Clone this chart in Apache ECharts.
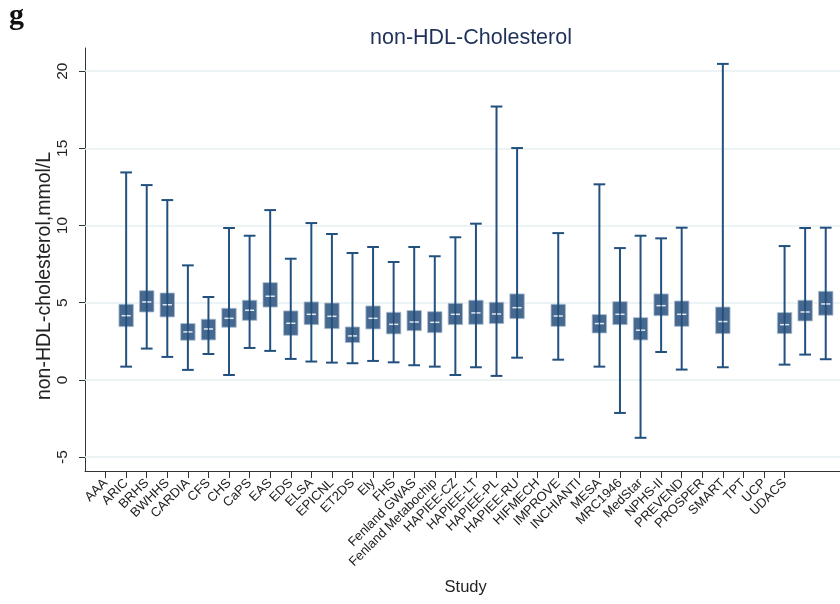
<!DOCTYPE html>
<html>
<head>
<meta charset="utf-8">
<script src="https://cdn.jsdelivr.net/npm/echarts@6/dist/echarts.min.js"></script>
<style>
  html, body { margin: 0; padding: 0; background: #fff; }
  #chart { width: 840px; height: 604px; }
</style>
</head>
<body>
<div id="chart"></div>
<script>
// Study names along the x axis
const studies = ['AAA', 'ARIC', 'BRHS', 'BWHHS', 'CARDIA', 'CFS', 'CHS', 'CaPS', 'EAS', 'EDS',
  'ELSA', 'EPICNL', 'ET2DS', 'Ely', 'FHS', 'Fenland GWAS', 'Fenland Metabochip', 'HAPIEE-CZ',
  'HAPIEE-LT', 'HAPIEE-PL', 'HAPIEE-RU', 'HIFMECH', 'IMPROVE', 'INCHIANTI', 'MESA', 'MRC1946',
  'MedStar', 'NPHS-II', 'PREVEND', 'PROSPER', 'SMART', 'TPT', 'UCP', 'UDACS'];

// Box statistics per slot (mmol/L); null = no box drawn in that slot
const whiskerLow = [null, 0.86, 2.03, 1.49, 0.65, 1.68, 0.32, 2.07, 1.88, 1.36, 1.19, 1.12, 1.08, 1.23, 1.14, 0.95, 0.86, 0.32, 0.82, 0.26, 1.44, null, 1.31, null, 0.86, -2.14, -3.75, 1.81, 0.67, null, 0.82, null, null, 0.99, 1.64, 1.34];
const boxLow     = [null, 3.45, 4.40, 4.08, 2.57, 2.59, 3.41, 3.86, 4.72, 2.89, 3.58, 3.32, 2.42, 3.30, 2.98, 3.19, 3.06, 3.58, 3.60, 3.65, 3.97, null, 3.47, null, 3.04, 3.58, 2.59, 4.16, 3.47, null, 3.00, null, null, 3.00, 3.82, 4.19];
const medians    = [null, 4.16, 5.05, 4.87, 3.11, 3.30, 3.99, 4.51, 5.42, 3.67, 4.25, 4.12, 2.85, 3.99, 3.60, 3.75, 3.73, 4.25, 4.34, 4.27, 4.68, null, 4.14, null, 3.65, 4.25, 3.22, 4.81, 4.25, null, 3.78, null, null, 3.58, 4.40, 4.92];
const boxHigh    = [null, 4.90, 5.78, 5.63, 3.65, 3.93, 4.64, 5.16, 6.30, 4.47, 5.05, 4.98, 3.43, 4.79, 4.38, 4.49, 4.42, 4.96, 5.16, 5.03, 5.57, null, 4.90, null, 4.23, 5.07, 4.03, 5.57, 5.11, null, 4.72, null, null, 4.36, 5.16, 5.74];
const whiskerHigh= [null, 13.44, 12.62, 11.65, 7.42, 5.37, 9.84, 9.34, 11.00, 7.85, 10.16, 9.45, 8.22, 8.61, 7.64, 8.61, 8.01, 9.24, 10.12, 17.71, 15.02, null, 9.51, null, 12.67, 8.54, 9.34, 9.17, 9.86, null, 20.47, null, null, 8.67, 9.84, 9.86];

// Y axis tick values
const yTicks = [-5, 0, 5, 10, 15, 20];

// Category axis: a blank slot on each side of the labelled studies
const categories = [''].concat(studies, ['', '', '']);

const boxData = [];
for (let k = 0; k < medians.length; k++) {
  if (medians[k] === null) continue;
  boxData.push([k + 1, whiskerLow[k], boxLow[k], medians[k], boxHigh[k], whiskerHigh[k]]);
}

const WHISKER = '#22507f';
const BOX = '#47698f';
const FONT = '"Liberation Sans", Arial, sans-serif';

function renderBox(params, api) {
  const x = api.value(0);
  const lo = api.coord([x, api.value(1)]);
  const q1 = api.coord([x, api.value(2)]);
  const md = api.coord([x, api.value(3)]);
  const q3 = api.coord([x, api.value(4)]);
  const hi = api.coord([x, api.value(5)]);
  const step = api.size([1, 0])[0];
  const bw = step * 0.7;
  const cw = step * 0.57;
  const cx = lo[0];
  const left = cx - bw / 2;
  const dash = bw * 0.28;
  return {
    type: 'group',
    children: [
      {
        type: 'rect',
        shape: { x: left, y: q3[1], width: bw, height: q1[1] - q3[1] },
        style: { fill: BOX, stroke: '#a9bccf', lineWidth: 0.8 }
      },
      {
        type: 'line',
        shape: { x1: cx, y1: lo[1], x2: cx, y2: hi[1] },
        style: { stroke: WHISKER, lineWidth: 2 }
      },
      {
        type: 'line',
        shape: { x1: cx - cw / 2, y1: lo[1], x2: cx + cw / 2, y2: lo[1] },
        style: { stroke: WHISKER, lineWidth: 2 }
      },
      {
        type: 'line',
        shape: { x1: cx - cw / 2, y1: hi[1], x2: cx + cw / 2, y2: hi[1] },
        style: { stroke: WHISKER, lineWidth: 2 }
      },
      {
        type: 'line',
        shape: { x1: left + bw * 0.18, y1: md[1], x2: left + bw * 0.18 + dash, y2: md[1] },
        style: { stroke: '#e4eaf1', lineWidth: 1.5 }
      },
      {
        type: 'line',
        shape: { x1: left + bw * 0.82 - dash, y1: md[1], x2: left + bw * 0.82, y2: md[1] },
        style: { stroke: '#e4eaf1', lineWidth: 1.5 }
      }
    ]
  };
}

const chart = echarts.init(document.getElementById('chart'), null, { renderer: 'canvas' });
chart.setOption({
  animation: false,
  backgroundColor: '#ffffff',
  title: {
    text: 'non-HDL-Cholesterol',
    left: 466,
    top: 22,
    textAlign: 'center',
    textStyle: { color: '#1e3159', fontSize: 21.5, fontWeight: 'normal', fontFamily: FONT }
  },
  graphic: [
    {
      type: 'text',
      left: 9,
      top: 1,
      style: { text: 'g', font: 'bold 30px "Liberation Serif", "DejaVu Serif", serif', fill: '#111' }
    },
    {
      type: 'text',
      x: 45,
      y: 276,
      rotation: Math.PI / 2,
      style: {
        text: 'non-HDL-cholesterol,mmol/L',
        font: '19.5px ' + FONT,
        fill: '#222',
        align: 'center',
        verticalAlign: 'middle'
      }
    }
  ],
  grid: { left: 85, right: -6.3, top: 48, bottom: 133, containLabel: false, outerBoundsMode: 'none' },
  xAxis: {
    type: 'category',
    data: categories,
    boundaryGap: false,
    name: 'Study',
    nameLocation: 'middle',
    nameGap: 108,
    nameTextStyle: { color: '#222', fontSize: 16.5, fontFamily: FONT },
    axisLine: { onZero: false, lineStyle: { color: '#333', width: 1 } },
    axisTick: {
      length: 7,
      interval: function (idx, val) { return val !== ''; },
      lineStyle: { color: '#333' }
    },
    axisLabel: {
      interval: 0,
      rotate: 45,
      margin: 10,
      color: '#222',
      fontSize: 13,
      fontFamily: FONT
    },
    splitLine: { show: false }
  },
  yAxis: {
    type: 'value',
    min: -5.9,
    max: 21.5,
    axisLine: { show: true, lineStyle: { color: '#333', width: 1 } },
    axisTick: { show: true, length: 6, customValues: yTicks, lineStyle: { color: '#333' } },
    axisLabel: {
      customValues: yTicks,
      rotate: 90,
      margin: 14,
      color: '#222',
      fontSize: 15.5,
      fontFamily: FONT
    },
    splitLine: { show: false }
  },
  series: [
    {
      type: 'custom',
      renderItem: renderBox,
      encode: { x: 0, y: [1, 2, 3, 4, 5] },
      data: boxData,
      clip: false,
      z: 3,
      markLine: {
        silent: true,
        symbol: 'none',
        label: { show: false },
        lineStyle: { color: '#e6eff2', width: 1.5, type: 'solid' },
        z: 1,
        data: yTicks.map(function (v) { return { yAxis: v }; })
      }
    }
  ]
});
</script>
</body>
</html>
